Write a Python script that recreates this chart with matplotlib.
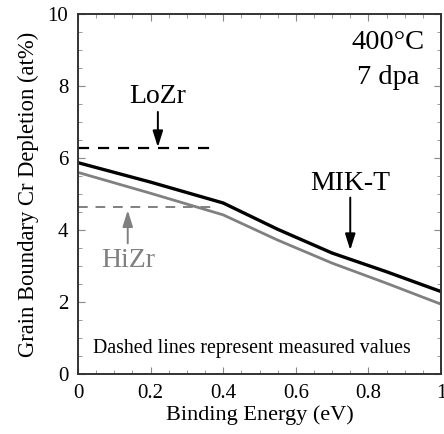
import matplotlib
matplotlib.use("Agg")
import matplotlib.pyplot as plt
from matplotlib.ticker import MultipleLocator

plt.rcParams['font.family'] = ['Liberation Serif', 'DejaVu Serif']

# model curves (MIK-T)
energy = [0.0, 0.2, 0.4, 0.55, 0.7, 0.85, 1.0]
lozr_model = [5.87, 5.33, 4.75, 4.02, 3.36, 2.84, 2.29]
hizr_model = [5.60, 5.02, 4.42, 3.72, 3.08, 2.52, 1.94]

# measured values (dashed)
measured_x = [0.0, 0.38]
lozr_measured = 6.27
hizr_measured = 4.64

gray = '#808080'

fig = plt.figure(figsize=(4.44, 4.34), dpi=100)
ax = fig.add_axes([78 / 444, 60 / 434, 363 / 444, 360 / 434])

ax.plot(energy, hizr_model, color=gray, lw=2.0)
ax.plot(energy, lozr_model, color='black', lw=2.4)
ax.plot(measured_x, [lozr_measured] * 2, color='black', lw=1.6, ls=(0, (5, 4)))
ax.plot(measured_x, [hizr_measured] * 2, color=gray, lw=1.4, ls=(0, (5, 4)))

ax.set_xlim(0, 1)
ax.set_ylim(0, 10)
ax.set_xticks([0, 0.2, 0.4, 0.6, 0.8, 1])
ax.set_xticklabels(['0', '0.2', '0.4', '0.6', '0.8', '1'])
ax.xaxis.set_minor_locator(MultipleLocator(0.05))
ax.yaxis.set_major_locator(MultipleLocator(2))
ax.yaxis.set_minor_locator(MultipleLocator(0.5))
ax.tick_params(which='both', direction='in', top=True, right=True, color='#888888', labelsize=15)
ax.tick_params(which='major', length=5, pad=7)
ax.tick_params(which='minor', length=3)
for s in ax.spines.values():
    s.set_linewidth(1.4)
    s.set_color('#333333')

ax.set_xlabel('Binding Energy (eV)', fontsize=16, labelpad=2)
ax.set_ylabel('Grain Boundary Cr Depletion (at%)', fontsize=16.3, labelpad=6)

ax.text(0.855, 9.2, '400°C', fontsize=20.5, ha='center', va='center')
ax.text(0.855, 8.25, '7 dpa', fontsize=20.5, ha='center', va='center')
ax.text(0.48, 0.72, 'Dashed lines represent measured values', fontsize=14.3,
        ha='center', va='center')

ax.text(0.22, 7.72, 'LoZr', fontsize=20, ha='center', va='center')
ax.text(0.137, 3.15, 'HiZr', fontsize=20, ha='center', va='center', color=gray)
ax.text(0.75, 5.3, 'MIK-T', fontsize=20, ha='center', va='center')

arrow = dict(arrowstyle='-|>,head_length=0.7,head_width=0.22', color='black',
             lw=1.4, shrinkA=0, shrinkB=0, mutation_scale=14)
ax.annotate('', xy=(0.22, 6.3), xytext=(0.22, 7.28), arrowprops=arrow)
ax.annotate('', xy=(0.137, 4.55), xytext=(0.137, 3.63),
            arrowprops=dict(arrow, color=gray))
ax.annotate('', xy=(0.75, 3.44), xytext=(0.75, 4.9), arrowprops=arrow)

fig.savefig('out.png', dpi=100)
